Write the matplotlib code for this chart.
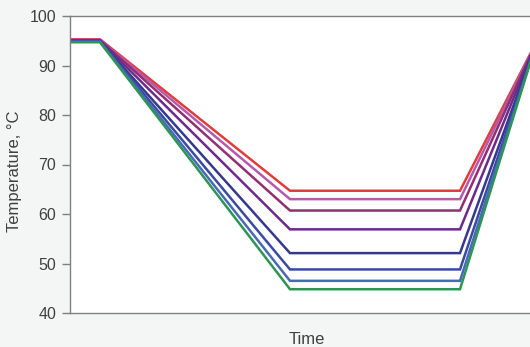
import numpy as np
import matplotlib.pyplot as plt

# time points of each segment (arbitrary units)
times = [0, 30, 220, 390, 467]
denature = [95.3, 95.2, 95.1, 95.0, 94.9, 94.9, 94.8, 94.7]
anneal = [64.7, 63.0, 60.7, 56.9, 52.1, 48.8, 46.5, 44.8]
colors = ["#e23b3b", "#b45aae", "#922f72", "#6c2b8a",
          "#35388c", "#3a4aa2", "#4a68b8", "#2c9556"]

plt.rcParams["font.family"] = ["Liberation Sans", "DejaVu Sans"]

fig = plt.figure(figsize=(5.30, 3.47), dpi=100, facecolor="#f3f6f5")
ax = fig.add_axes([70 / 530, 1 - 313 / 347, 474 / 530, (313 - 16) / 347])
ax.set_facecolor("white")

for d, a, c in zip(denature, anneal, colors):
    temps = [d, d, a, a, 95]
    ax.plot(times, temps, color=c, lw=1.8, solid_joinstyle="miter")

ax.set_xlim(0, 474)
ax.set_ylim(40, 100)
ax.set_yticks(np.arange(40, 101, 10))
ax.set_xticks([])

for s in ["top", "bottom", "left", "right"]:
    ax.spines[s].set_color("#808080")
    ax.spines[s].set_linewidth(1.0)

ax.tick_params(axis="y", direction="out", length=6, width=1, color="#808080",
               labelsize=11.5, labelcolor="#404040", pad=4)

ax.set_xlabel("Time", fontsize=12, color="#404040")
fig.text(0.028, 1 - 171 / 347, "Temperature, °C", rotation=90, fontsize=12,
         color="#404040", ha="center", va="center")
ax.xaxis.set_label_coords((307 - 70) / 474, -0.063, transform=ax.transAxes)
ax.xaxis.label.set_va("top")

fig.savefig("out.png", dpi=100, facecolor=fig.get_facecolor())
